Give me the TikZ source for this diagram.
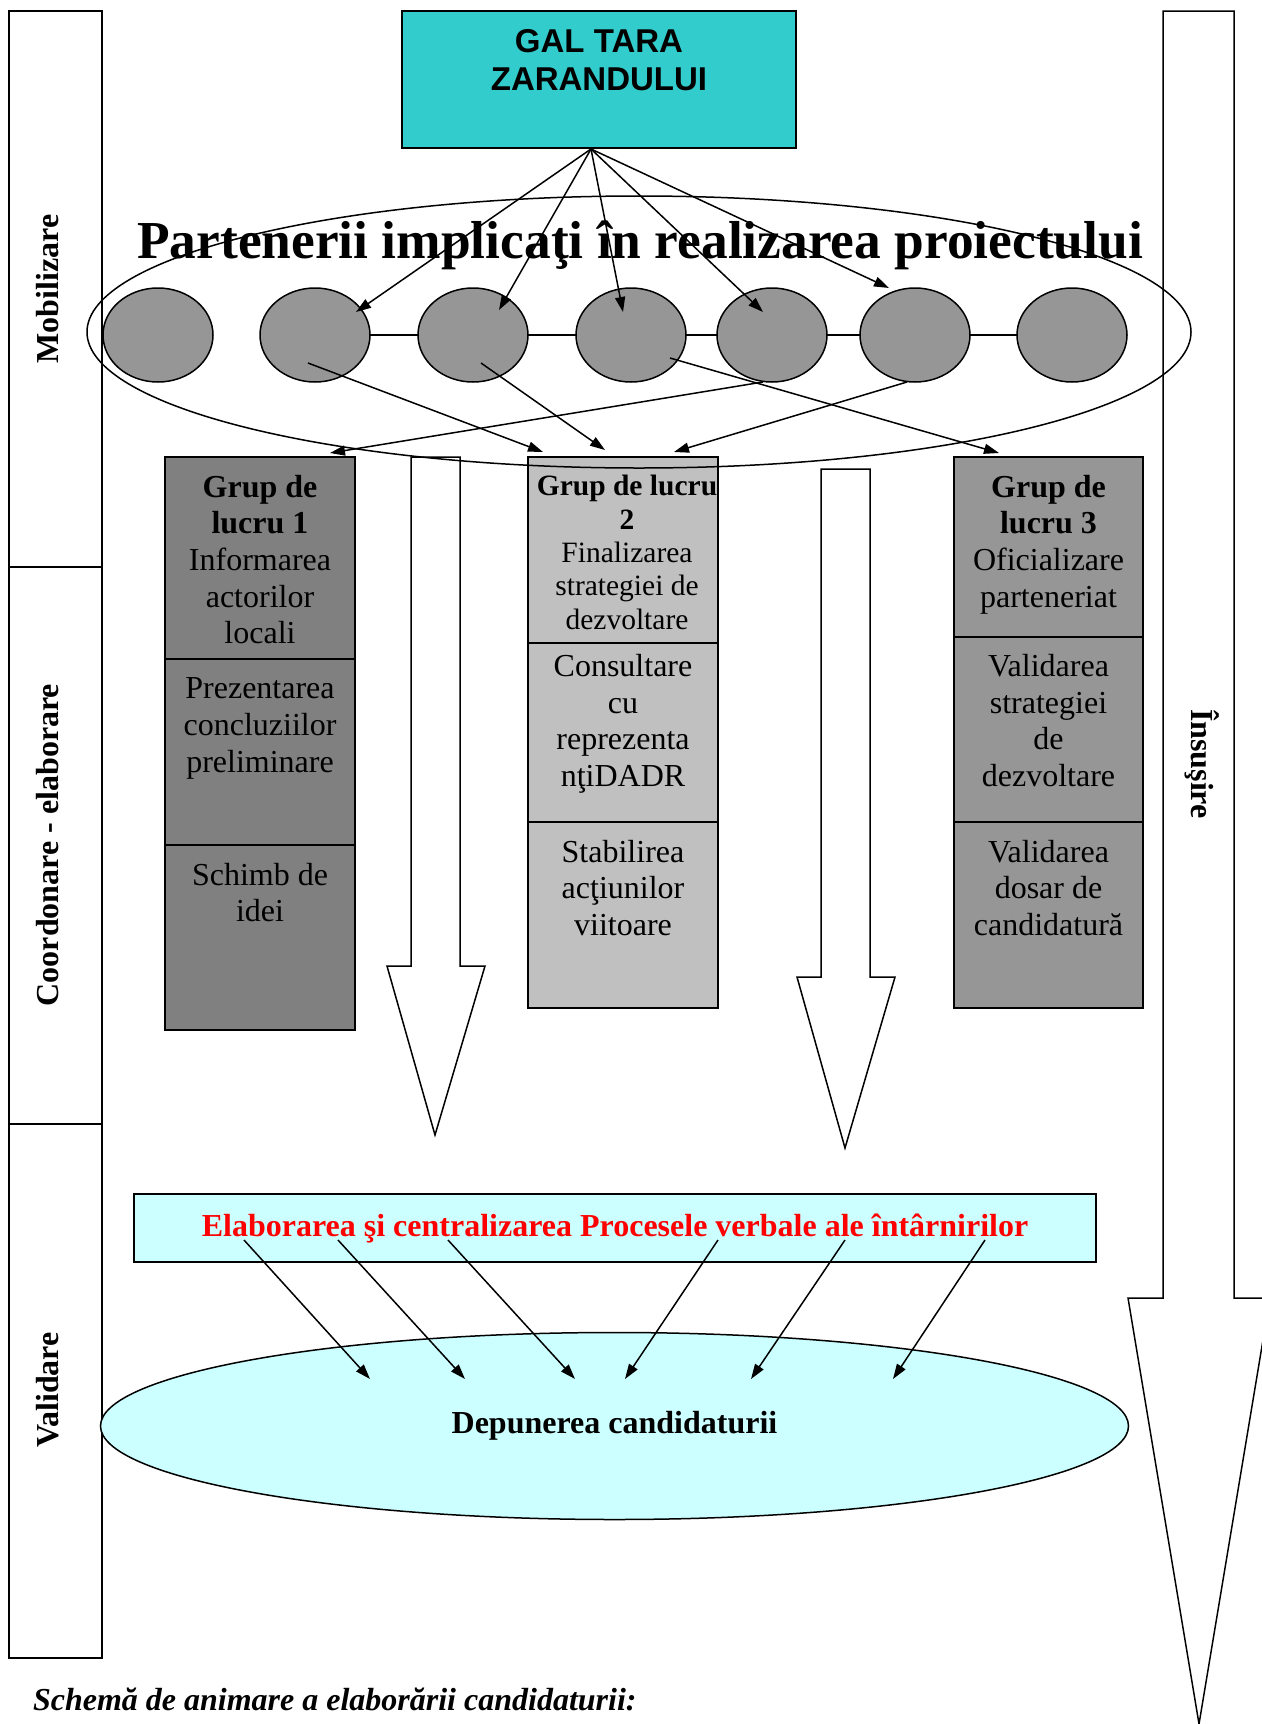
\documentclass[tikz,border=0pt]{standalone}
\usepackage{fontspec}
\setmainfont{Liberation Serif}
\newfontfamily\galfont{Liberation Sans}
\usetikzlibrary{positioning,shapes.geometric,arrows.meta}
\definecolor{galcyan}{HTML}{33CCCC}
\definecolor{palecyan}{HTML}{CCFFFF}
\definecolor{grpdark}{HTML}{808080}
\definecolor{grpmid}{HTML}{969696}
\definecolor{grplight}{HTML}{C0C0C0}
\tikzset{
  every node/.style={inner sep=0pt, outer sep=0pt},
  phasebox/.style={draw, line width=2pt, minimum width=93pt},
  phasetxt/.style={font=\bfseries\fontsize{32}{36}\selectfont},
  secbox/.style={draw, line width=2pt, minimum width=190pt, anchor=north},
  sectxt/.style={align=center, font=\fontsize{32}{36.6}\selectfont},
  partner/.style={ellipse, draw, line width=1.5pt, fill=grpmid, minimum width=110pt, minimum height=94pt},
  link/.style={line width=1.5pt, -{Triangle[length=15pt,width=10pt]}},
  blockarrow/.style={draw, line width=1.5pt, fill=white}
}
\begin{document}
\begin{tikzpicture}[x=1pt,y=-1pt]
  \useasboundingbox (0,0) rectangle (1261,1724);
  % phases
  \node[phasebox, minimum height=556pt] (mob) at (55.5,289) {};
  \node[phasebox, minimum height=557pt, below=0pt of mob] (coord) {};
  \node[phasebox, minimum height=534pt, below=0pt of coord] (valid) {};
  \node[phasetxt, rotate=90] (mobtxt) at (48,289) {Mobilizare};
  \node[phasetxt, rotate=90] (coordtxt) at (48,845) {Coordonare - elaborare};
  \node[phasetxt, rotate=90] (validtxt) at (48,1390) {Validare};
  \draw[blockarrow] (1163,11) -- (1234,11) -- (1234,1298) -- (1270,1298) -- (1199,1724)
    -- (1128,1298) -- (1163,1298) -- cycle;
  \node[phasetxt, rotate=-90] (insusire) at (1202,764) {Însuşire};

  \node[draw, line width=2pt, fill=galcyan, minimum width=394pt, minimum height=137pt] (gal) at (599,79.5) {};
  \node[align=center, font=\galfont\bfseries\fontsize{33}{38}\selectfont, below=18pt of gal.north] (galtxt)
    {GAL TARA\\ZARANDULUI};

  \draw[blockarrow] (411,457) -- (460,457) -- (460,966) -- (485,966) -- (435,1135)
    -- (387,966) -- (411,966) -- cycle;
  \draw[blockarrow] (821,469) -- (870,469) -- (870,977) -- (895,977) -- (845,1148)
    -- (797,977) -- (821,977) -- cycle;

  % groups
  \node[secbox, fill=grpdark, minimum height=202pt] (g1a) at (260,457) {};
  \node[secbox, fill=grpdark, minimum height=185.5pt, below=0pt of g1a] (g1b) {};
  \node[secbox, fill=grpdark, minimum height=185.5pt, below=0pt of g1b] (g1c) {};
  \node[secbox, fill=grplight, minimum height=186pt] (g2a) at (623,457) {};
  \node[secbox, fill=grplight, minimum height=179pt, below=0pt of g2a] (g2b) {};
  \node[secbox, fill=grplight, minimum height=186pt, below=0pt of g2b] (g2c) {};
  \node[secbox, fill=grpmid, minimum width=189pt, minimum height=180pt] (g3a) at (1048.5,457) {};
  \node[secbox, fill=grpmid, minimum width=189pt, minimum height=185pt, below=0pt of g3a] (g3b) {};
  \node[secbox, fill=grpmid, minimum width=189pt, minimum height=186pt, below=0pt of g3b] (g3c) {};

  \node[sectxt, below=18pt of g1a.north] (t1a) {\textbf{Grup de}\\\textbf{lucru 1}\\Informarea\\actorilor\\locali};
  \node[sectxt, below=19pt of g1b.north] (t1b) {Prezentarea\\concluziilor\\preliminare};
  \node[sectxt, below=18.5pt of g1c.north] (t1c) {Schimb de\\idei};
  \node[sectxt, font=\fontsize{29.5}{33.3}\selectfont, below=18.5pt of g2a.north, xshift=4pt] (t2a)
    {\textbf{Grup de lucru}\\\textbf{2}\\Finalizarea\\strategiei de\\dezvoltare};
  \node[sectxt, below=11.5pt of g2b.north] (t2b) {Consultare\\cu\\reprezenta\\nţiDADR};
  \node[sectxt, below=18pt of g2c.north] (t2c) {Stabilirea\\acţiunilor\\viitoare};
  \node[sectxt, below=18pt of g3a.north] (t3a) {\textbf{Grup de}\\\textbf{lucru 3}\\Oficializare\\parteneriat};
  \node[sectxt, below=17.5pt of g3b.north] (t3b) {Validarea\\strategiei\\de\\dezvoltare};
  \node[sectxt, below=18pt of g3c.north] (t3c) {Validarea\\dosar de\\candidatură};

  % partners
  \node[partner] (p1) at (158,335) {};
  \node[partner] (p2) at (315,335) {};
  \node[partner] (p3) at (473,335) {};
  \node[partner] (p4) at (631,335) {};
  \node[partner] (p5) at (772,335) {};
  \node[partner] (p6) at (915,335) {};
  \node[partner] (p7) at (1072,335) {};
  \draw[line width=1.5pt] (p2) -- (p3) (p3) -- (p4) (p4) -- (p5) (p5) -- (p6) (p6) -- (p7);
  \node[ellipse, draw, line width=1.5pt, minimum width=1104pt, minimum height=272pt] (partners) at (639,332) {};
  \node[anchor=base, font=\bfseries\fontsize{53.4}{60}\selectfont] (title) at (640,258)
    {Partenerii implicaţi în realizarea proiectului};

  \coordinate (galfoot) at (591,149);
  \coordinate (in1) at (356,312);
  \coordinate (in2) at (499,310);
  \coordinate (in3) at (623,312);
  \coordinate (in4) at (763,312);
  \coordinate (in5) at (889,288);
  \draw[link] (galfoot) -- (in1);
  \draw[link] (galfoot) -- (in2);
  \draw[link] (galfoot) -- (in3);
  \draw[link] (galfoot) -- (in4);
  \draw[link] (galfoot) -- (in5);

  \coordinate (from1) at (308,363);
  \coordinate (from2) at (481,363);
  \coordinate (from3) at (670,358);
  \coordinate (from4) at (763,382);
  \coordinate (from5) at (907,382);
  \coordinate (to1) at (543,452);
  \coordinate (to2) at (605,450);
  \coordinate (to3) at (999,453);
  \coordinate (to4) at (330,453);
  \coordinate (to5) at (674,452);
  \draw[link] (from1) -- (to1);
  \draw[link] (from2) -- (to2);
  \draw[link] (from3) -- (to3);
  \draw[link] (from4) -- (to4);
  \draw[link] (from5) -- (to5);

  % validation
  \node[draw, line width=2pt, fill=palecyan, minimum width=962pt, minimum height=68pt, text=red,
    font=\bfseries\fontsize{32}{36}\selectfont] (elab) at (615,1228)
    {Elaborarea şi centralizarea Procesele verbale ale întârnirilor};
  \node[ellipse, draw, line width=1.5pt, fill=palecyan, minimum width=1028pt, minimum height=187pt,
    font=\bfseries\fontsize{32}{36}\selectfont] (depunere) at (614.5,1426) {Depunerea candidaturii};

  \coordinate (r1) at (244,1240);
  \coordinate (r2) at (338,1240);
  \coordinate (r3) at (448,1240);
  \coordinate (r4) at (718,1240);
  \coordinate (r5) at (845,1240);
  \coordinate (r6) at (985,1240);
  \coordinate (d1) at (370,1379);
  \coordinate (d2) at (465,1379);
  \coordinate (d3) at (575,1379);
  \coordinate (d4) at (625,1379);
  \coordinate (d5) at (751,1379);
  \coordinate (d6) at (893,1379);
  \draw[link] (r1) -- (d1);
  \draw[link] (r2) -- (d2);
  \draw[link] (r3) -- (d3);
  \draw[link] (r4) -- (d4);
  \draw[link] (r5) -- (d5);
  \draw[link] (r6) -- (d6);

  \node[anchor=base west, font=\bfseries\itshape\fontsize{32}{36}\selectfont] (caption) at (33,1710)
    {Schemă de animare a elaborării candidaturii:};
\end{tikzpicture}
\end{document}
